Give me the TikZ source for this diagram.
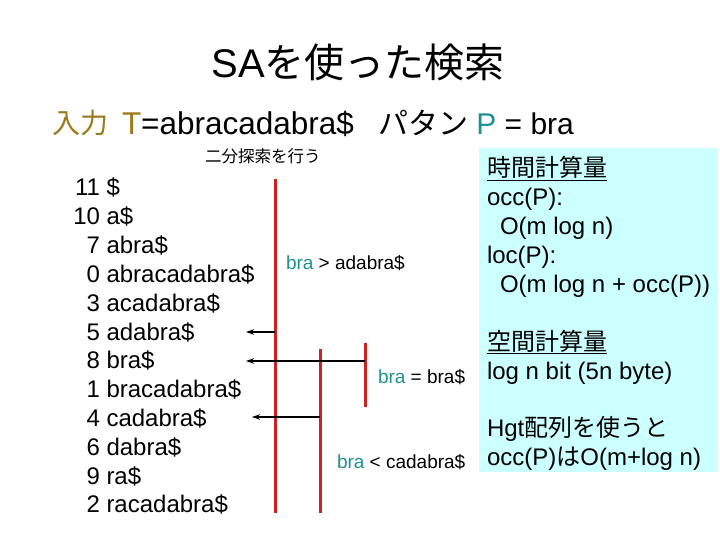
\documentclass[tikz,border=0pt]{standalone}
\usepackage{fontspec}
\setmainfont{Liberation Sans}
\newfontfamily\jp{Noto Sans CJK JP}
\usetikzlibrary{arrows.meta}
\definecolor{gold}{HTML}{9C7A1C}
\definecolor{tealc}{HTML}{1F8F8F}
\definecolor{sared}{HTML}{CC2222}
\definecolor{boxcyan}{HTML}{CCFFFF}
\begin{document}
\begin{tikzpicture}[x=1pt,y=-1pt,
  every node/.style={inner sep=0pt,outer sep=0pt},
  txt/.style={font=\fontsize{24}{28}\selectfont, anchor=base west},
  num/.style={font=\fontsize{24}{28}\selectfont, anchor=base east},
  big/.style={font=\fontsize{30}{34}\selectfont, anchor=base west},
  cmp/.style={font=\fontsize{19}{22}\selectfont, anchor=base west},
  redline/.style={draw=sared, line width=3pt},
  arr/.style={-{Stealth[length=8pt,width=5.5pt]}, line width=1.2pt}]
\useasboundingbox (0,0) rectangle (720,540);
% cyan box
\fill[boxcyan] (479,148) rectangle (718,472);
% title
\node[font=\fontsize{40}{46}\selectfont, anchor=base] (title) at (358,78) {SA{\jp を使った検索}};
\node[big, font=\fontsize{28}{32}\selectfont] (inlabel) at (52,134) {\textcolor{gold}{\jp 入力}};
\node[big, font=\fontsize{31.5}{36}\selectfont] (input) at (122,135) {\textcolor{gold}{T}=abracadabra\$};
\node[big] (pattern) at (378,135) {{\jp パタン} \textcolor{tealc}{P} = bra};
\node[font=\fontsize{16.5}{18}\selectfont, anchor=base west] (bsearch) at (205,163) {\jp 二分探索を行う};
% suffix array list
\foreach \n/\s [count=\i from 0] in {11/\$, 10/a\$, 7/abra\$, 0/abracadabra\$, 3/acadabra\$, 5/adabra\$, 8/bra\$, 1/bracadabra\$, 4/cadabra\$, 6/dabra\$, 9/ra\$, 2/racadabra\$}{
  \node[num] (num\i) at (100,{196+28.8*\i}) {\n};
  \node[txt] (suf\i) at (106.5,{196+28.8*\i}) {\s};
}
% red search lines
\coordinate (r1t) at (275,179); \coordinate (r1b) at (275,513);
\coordinate (r2t) at (320,349); \coordinate (r2b) at (320,513);
\coordinate (r3t) at (365,343); \coordinate (r3b) at (365,407);
\draw[redline] (r1t) -- (r1b);
\draw[redline] (r2t) -- (r2b);
\draw[redline] (r3t) -- (r3b);
% arrows
\coordinate (a1s) at (275,332); \coordinate (a1e) at (246,332);
\coordinate (a2s) at (365,361); \coordinate (a2e) at (246,361);
\coordinate (a3s) at (320,417); \coordinate (a3e) at (252,417);
\draw[arr] (a1s) -- (a1e);
\draw[arr] (a2s) -- (a2e);
\draw[arr] (a3s) -- (a3e);
% comparison labels
\node[cmp] (c1) at (286,269) {\textcolor{tealc}{bra} > adabra\$};
\node[cmp] (c2) at (378,383) {\textcolor{tealc}{bra} = bra\$};
\node[cmp] (c3) at (337,468) {\textcolor{tealc}{bra} < cadabra\$};
% box text
\node[txt] (b1) at (487,177) {\jp\underline{時間計算量}};
\node[txt] (b2) at (487,206) {occ(P):};
\node[txt] (b3) at (500,235) {O(m log n)};
\node[txt] (b4) at (487,263) {loc(P):};
\node[txt] (b5) at (500,292) {O(m log n + occ(P))};
\node[txt] (b6) at (487,350) {\jp\underline{空間計算量}};
\node[txt] (b7) at (487,379) {log n bit (5n byte)};
\node[txt] (b8) at (487,436) {Hgt{\jp 配列を使うと}};
\node[txt] (b9) at (487,465) {occ(P){\jp は}O(m+log n)};
\end{tikzpicture}
\end{document}
